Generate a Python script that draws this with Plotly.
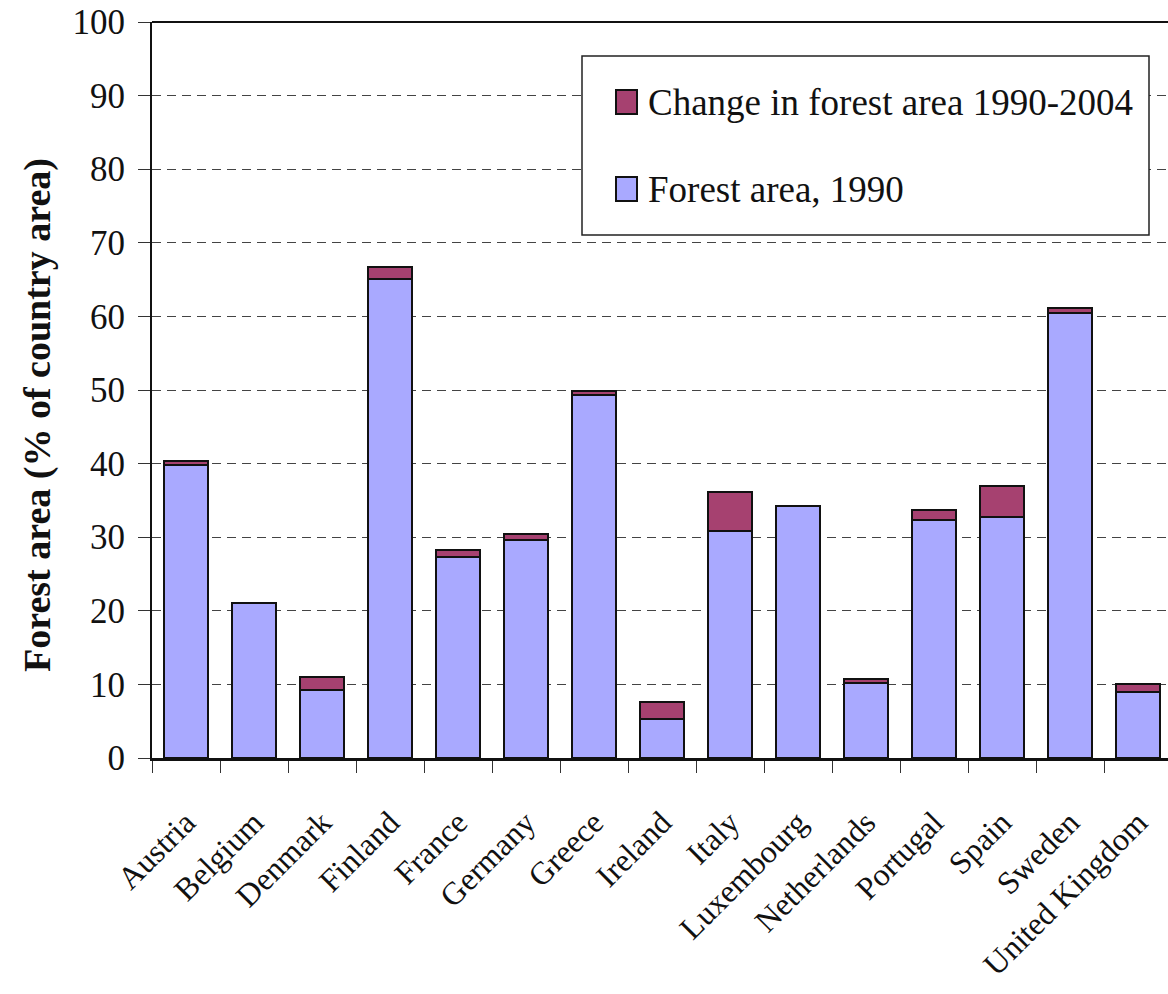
import plotly.graph_objects as go

# Forest area by country (% of country area)
countries = ["Austria", "Belgium", "Denmark", "Finland", "France", "Germany",
             "Greece", "Ireland", "Italy", "Luxembourg", "Netherlands",
             "Portugal", "Spain", "Sweden", "United Kingdom"]
forest_1990 = [39.8, 21.1, 9.3, 65.1, 27.3, 29.6, 49.3, 5.3, 30.8, 34.3,
               10.2, 32.4, 32.7, 60.5, 9.0]
change_1990_2004 = [0.5, 0.0, 1.7, 1.6, 1.0, 0.9, 0.5, 2.3, 5.4, 0.0,
                    0.5, 1.3, 4.2, 0.6, 1.0]

y_ticks = list(range(0, 101, 10))

BASE_COLOR = "#A9A9FF"
CHANGE_COLOR = "#A64170"
SERIF = "Liberation Serif, Times New Roman, serif"

W, H = 1168, 994
L, T, R, B = 152, 22, 0, 236
plot_w = W - L - R
plot_h = H - T - B


def px_x(px):
    return (px - L) / plot_w


def px_y(py):
    return (H - B - py) / plot_h


fig = go.Figure()
fig.add_trace(go.Bar(
    x=countries, y=forest_1990, name="Forest area, 1990",
    marker=dict(color=BASE_COLOR, line=dict(color="#111111", width=2)),
    showlegend=False,
))
fig.add_trace(go.Bar(
    x=countries, y=change_1990_2004, name="Change in forest area 1990-2004",
    marker=dict(color=CHANGE_COLOR, line=dict(color="#111111", width=2)),
    showlegend=False,
))

# category width in pixels -> the plot runs slightly past the last category
cat_w = 68.0
x_max = -0.5 + plot_w / cat_w

fig.update_layout(
    width=W, height=H,
    margin=dict(l=L, r=R, t=T, b=B, autoexpand=False),
    barmode="stack", bargap=0.36,
    plot_bgcolor="white", paper_bgcolor="white",
    font=dict(family=SERIF, color="#111111"),
    xaxis=dict(
        range=[-0.5, x_max], tickson="boundaries",
        ticks="outside", ticklen=12, tickwidth=1, tickcolor="#333333",
        showline=True, linecolor="#111111", linewidth=3,
        showgrid=False, tickangle=-45, ticklabelstandoff=30,
        tickfont=dict(family=SERIF, size=32, color="#111111"),
        automargin=False,
    ),
    yaxis=dict(
        range=[0, 100], tickvals=y_ticks,
        ticks="outside", ticklen=12, tickwidth=1, tickcolor="#333333",
        showline=True, linecolor="#111111", linewidth=2,
        showgrid=True, gridcolor="#444444", gridwidth=1, griddash="9px,6px",
        zeroline=False, ticklabelstandoff=6,
        tickfont=dict(family=SERIF, size=35, color="#111111"),
        automargin=False,
    ),
)

# top frame line of the plot area
fig.add_shape(type="line", xref="paper", yref="paper", x0=0, x1=1, y0=1, y1=1,
              line=dict(color="#111111", width=2))

# y-axis title
fig.add_annotation(
    text="<b>Forest area (% of country area)</b>",
    xref="paper", yref="paper", x=px_x(37), y=px_y(415),
    textangle=-90, showarrow=False, xanchor="center", yanchor="middle",
    font=dict(family=SERIF, size=38, color="#111111"),
)

# legend box
fig.add_shape(type="rect", xref="paper", yref="paper",
              x0=px_x(582), x1=px_x(1149), y0=px_y(235), y1=px_y(56),
              fillcolor="white", line=dict(color="#222222", width=1.5))
legend_items = [("Change in forest area 1990-2004", CHANGE_COLOR, 102),
                ("Forest area, 1990", BASE_COLOR, 189)]
for label, color, cy in legend_items:
    fig.add_shape(type="rect", xref="paper", yref="paper",
                  x0=px_x(616), x1=px_x(637), y0=px_y(cy + 12), y1=px_y(cy - 12),
                  fillcolor=color, line=dict(color="#111111", width=2))
    fig.add_annotation(text=label, xref="paper", yref="paper",
                       x=px_x(646), y=px_y(cy), showarrow=False,
                       xanchor="left", yanchor="middle",
                       font=dict(family=SERIF, size=37, color="#111111"))

fig.write_html("out.html")
